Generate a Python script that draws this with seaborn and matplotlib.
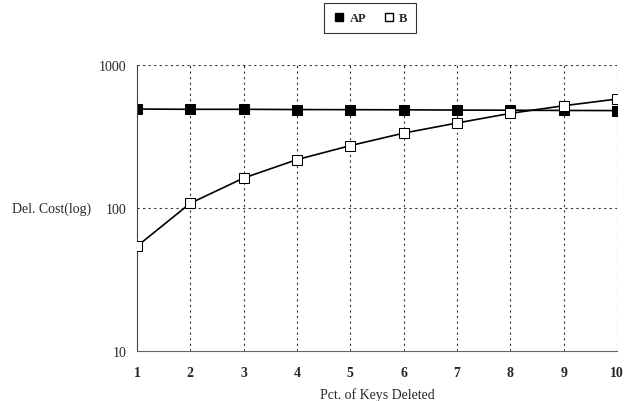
import matplotlib
matplotlib.use("Agg")
import matplotlib.pyplot as plt
import seaborn as sns
import pandas as pd
from matplotlib.ticker import FixedLocator, NullLocator
from matplotlib.lines import Line2D

x_vals = [1, 2, 3, 4, 5, 6, 7, 8, 9, 10]
ap_vals = [492, 490, 490, 488, 487, 486, 484, 483, 481, 480]
b_vals = [54, 108, 162, 218, 273, 334, 393, 459, 519, 578]

sns.set_theme(style="white")
plt.rcParams['font.family'] = ['Liberation Serif', 'DejaVu Serif']

df = pd.DataFrame({
    "x": x_vals * 2,
    "y": ap_vals + b_vals,
    "series": ["AP"] * len(x_vals) + ["B"] * len(x_vals),
})

fig = plt.figure(figsize=(6.26, 4.02), dpi=100)
ax = fig.add_axes([137/626, 1 - 352/402, (617-137)/626, (352-66)/402])

sns.lineplot(data=df, x="x", y="y", hue="series", style="series",
             palette={"AP": "black", "B": "black"},
             markers={"AP": "s", "B": "s"}, dashes=False,
             linewidth=1.2, markersize=7, ax=ax, legend=False)
lines = ax.get_lines()
lines[0].set_markerfacecolor("black")
lines[0].set_markeredgecolor("black")
lines[0].set_markersize(6.5)
lines[1].set_markerfacecolor("white")
lines[1].set_markeredgecolor("black")
lines[1].set_zorder(3)

ax.set_yscale("log")
ax.set_ylim(10, 1000)
ax.set_xlim(1, 10)
ax.yaxis.set_major_locator(FixedLocator([10, 100, 1000]))
ax.yaxis.set_minor_locator(NullLocator())
ax.set_yticklabels(["10", "100", "1000"])
ax.set_xticks(x_vals)
ax.set_xticklabels([str(v) for v in x_vals], fontweight="bold")

for xv in x_vals[1:]:
    ax.axvline(xv, color="#333333", linestyle=(0, (2, 3)), linewidth=0.8, zorder=0)
for yv in [100, 1000]:
    ax.axhline(yv, color="#333333", linestyle=(0, (2, 3)), linewidth=0.8, zorder=0)

for s in ["top", "right"]:
    ax.spines[s].set_visible(False)
ax.spines["left"].set_color("#444444")
ax.spines["bottom"].set_color("#666666")
ax.spines["left"].set_linewidth(0.8)
ax.spines["bottom"].set_linewidth(0.8)
ax.tick_params(axis="both", which="major", direction="inout", length=5, width=0.6,
               color="#444444", labelsize=10, pad=8)
ax.tick_params(axis="y", pad=5)

ax.set_xlabel("Pct. of Keys Deleted", fontsize=10, labelpad=6)
ax.set_ylabel("Del. Cost(log)", fontsize=10, rotation=0, labelpad=6, va="center", ha="right")

handles = [
    Line2D([], [], marker="s", color="black", markerfacecolor="black", linestyle="none", markersize=6),
    Line2D([], [], marker="s", color="black", markerfacecolor="white", linestyle="none", markersize=6),
]
leg = fig.legend(handles, ["AP", "B"], loc="center", bbox_to_anchor=(370/626, 1 - 19/402),
                 ncol=2, frameon=True, fancybox=False, fontsize=9, handletextpad=0.3,
                 columnspacing=1.3, handlelength=1.0, borderpad=0.7)
leg.get_frame().set_edgecolor("black")
leg.get_frame().set_linewidth(0.8)
for t in leg.get_texts():
    t.set_fontweight("bold")

fig.savefig("out.png", dpi=100)
